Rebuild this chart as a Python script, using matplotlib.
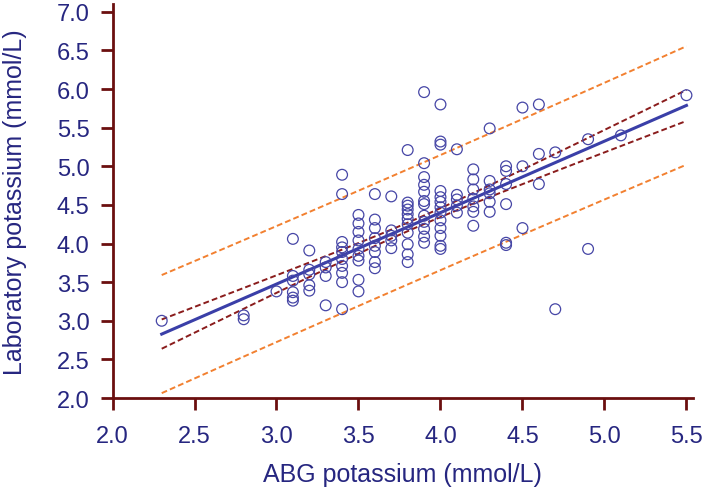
import numpy as np
import matplotlib
matplotlib.use("Agg")
import matplotlib.pyplot as plt

plt.rcParams['font.family'] = ['Liberation Sans', 'DejaVu Sans']

# ABG potassium (x) grouped with laboratory potassium values (y)
abg_groups = {
    2.3: [3.0],
    2.8: [3.07, 3.02],
    3.0: [3.38],
    3.1: [4.06, 3.58, 3.52, 3.37, 3.30, 3.26],
    3.2: [3.91, 3.66, 3.60, 3.46, 3.39],
    3.3: [3.76, 3.69, 3.58, 3.20],
    3.4: [4.89, 4.64, 4.02, 3.95, 3.89, 3.80, 3.71, 3.62, 3.50, 3.15],
    3.5: [4.37, 4.26, 4.15, 4.04, 3.93, 3.84, 3.78, 3.53, 3.38],
    3.6: [4.64, 4.31, 4.20, 4.07, 3.97, 3.89, 3.76, 3.68],
    3.7: [4.61, 4.17, 4.10, 4.04, 3.94],
    3.8: [5.21, 4.53, 4.49, 4.44, 4.38, 4.32, 4.25, 4.14, 3.99, 3.86, 3.76],
    3.9: [5.96, 5.04, 4.86, 4.76, 4.67, 4.55, 4.51, 4.36, 4.28, 4.19, 4.09, 4.01],
    4.0: [5.80, 5.32, 5.28, 4.68, 4.60, 4.54, 4.47, 4.40, 4.30, 4.20, 4.10, 3.97, 3.93],
    4.1: [5.22, 4.63, 4.57, 4.49, 4.40],
    4.2: [4.96, 4.83, 4.70, 4.58, 4.48, 4.41, 4.23],
    4.3: [5.49, 4.81, 4.70, 4.65, 4.54, 4.41],
    4.4: [5.00, 4.94, 4.77, 4.51, 4.01, 3.98],
    4.5: [5.76, 5.00, 4.20],
    4.6: [5.80, 5.16, 4.77],
    4.7: [5.18, 3.15],
    4.9: [5.35, 3.93],
    5.1: [5.40],
    5.5: [5.92],
}

abg = np.array([x for x, ys in abg_groups.items() for _ in ys])
lab = np.array([y for ys in abg_groups.values() for y in ys])

x_ticks = [2.0, 2.5, 3.0, 3.5, 4.0, 4.5, 5.0, 5.5]
y_ticks = [2.0, 2.5, 3.0, 3.5, 4.0, 4.5, 5.0, 5.5, 6.0, 6.5, 7.0]

# regression line and interval bands
fit_slope = 0.925
fit_intercept = 0.70
fit_x_mean = 3.85
ci_half_at_mean = 0.055     # 95% CI of the mean, half width at mean x
ci_half_growth = 0.117      # growth with distance from mean x
pi_half_at_mean = 0.745     # 95% prediction interval half width at mean x
pi_half_growth = 0.11

xs = np.linspace(abg.min(), abg.max(), 100)
ys = fit_slope * xs + fit_intercept
dx = xs - fit_x_mean
ci = np.sqrt(ci_half_at_mean ** 2 + (ci_half_growth * dx) ** 2)
pi = np.sqrt(pi_half_at_mean ** 2 + (pi_half_growth * dx) ** 2)

navy = '#262680'
spine = '#6b0f0f'

fig = plt.figure(figsize=(7.05, 4.89), dpi=100)
ax = fig.add_axes([0.1596, 0.1840, 0.8227, 0.8057])

dash = (0, (3, 1.6))
ax.plot(xs, ys + pi, color='#f28030', lw=1.4, ls=dash)
ax.plot(xs, ys - pi, color='#f28030', lw=1.4, ls=dash)
ax.plot(xs, ys + ci, color='#8a1c1c', lw=1.4, ls=dash)
ax.plot(xs, ys - ci, color='#8a1c1c', lw=1.4, ls=dash)
ax.plot(xs, ys, color='#3a3fa8', lw=2.2)
ax.scatter(abg, lab, s=60, facecolors='none', edgecolors='#4646a6', linewidths=0.9, zorder=3)

ax.set_xlim(2.0, 5.537)
ax.set_ylim(2.0, 7.1)
ax.set_xticks(x_ticks)
ax.set_yticks(y_ticks)
ax.set_xticklabels([f"{v:.1f}" for v in x_ticks])
ax.set_yticklabels([f"{v:.1f}" for v in y_ticks])
for side in ['top', 'right']:
    ax.spines[side].set_visible(False)
for side in ['left', 'bottom']:
    ax.spines[side].set_color(spine)
    ax.spines[side].set_linewidth(2.0)
ax.tick_params(axis='both', colors=spine, width=2.0, length=8.6, labelcolor=navy, labelsize=17)
ax.tick_params(axis='x', pad=11)
ax.tick_params(axis='y', pad=8)
ax.set_xlabel('ABG potassium (mmol/L)', color=navy, fontsize=18)
ax.set_ylabel('Laboratory potassium (mmol/L)', color=navy, fontsize=18)
ax.xaxis.set_label_coords(0.5, -0.163)
ax.yaxis.set_label_coords(-0.147, 0.5)

fig.savefig('out.png', dpi=100)
